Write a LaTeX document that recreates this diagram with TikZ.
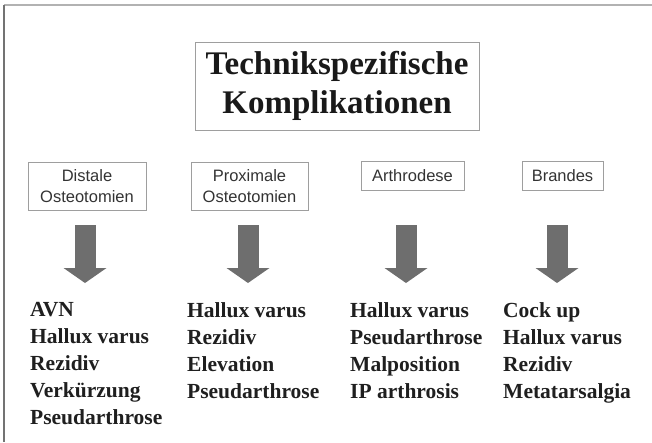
\documentclass[tikz,border=0pt]{standalone}
\usepackage{fontspec}
\setmainfont{Liberation Serif}
\setsansfont{Liberation Sans}
\usetikzlibrary{arrows.meta}
\tikzset{
  box/.style={draw=black!38, line width=1pt, inner sep=0pt, align=center,
    font=\sffamily\fontsize{16.5}{21}\selectfont, text=black!80},
  compl/.style={anchor=north west, inner sep=0pt, align=left,
    font=\bfseries\fontsize{21.5}{27}\selectfont, text=black!88},
  bigarrow/.style={line width=21pt, draw=black!57,
    -{Triangle[width=43pt,length=15pt,line width=0pt]}},
}
\begin{document}
\begin{tikzpicture}[x=1pt, y=-1pt]
    \useasboundingbox (0,0) rectangle (652,442);
    % Frame
    \draw[black!30, line width=1.5pt] (4,5) -- (652,5);
    \draw[black!55, line width=1.5pt] (4,5) -- (4,442);
    % Nodes
    \node[box, minimum width=284pt, minimum height=88pt, text=black!90,
      font=\bfseries\fontsize{33}{39}\selectfont] (title) at (337,86) {Technikspezifische\\Komplikationen};
    \node[box, minimum width=118pt, minimum height=48pt] (dist) at (87,186) {Distale\\Osteotomien};
    \node[box, minimum width=117pt, minimum height=48pt] (prox) at (249.5,186) {Proximale\\Osteotomien};
    \node[box, minimum width=103pt, minimum height=29pt] (arth) at (412.5,175.5) {Arthrodese};
    \node[box, minimum width=81pt, minimum height=29pt] (brand) at (562.5,175.5) {Brandes};
    \node[compl] (dist-list) at (30,302) {AVN\\Hallux varus\\Rezidiv\\Verkürzung\\Pseudarthrose};
    \node[compl] (prox-list) at (187,302) {Hallux varus\\Rezidiv\\Elevation\\Pseudarthrose};
    \node[compl] (arth-list) at (350,302) {Hallux varus\\Pseudarthrose\\Malposition\\IP arthrosis};
    \node[compl] (brand-list) at (503,302) {Cock up\\Hallux varus\\Rezidiv\\Metatarsalgia};
    % Arrow ends
    \coordinate (dist-a) at (85,225);   \coordinate (dist-b) at (85,283);
    \coordinate (prox-a) at (248,225);  \coordinate (prox-b) at (248,283);
    \coordinate (arth-a) at (406,225);  \coordinate (arth-b) at (406,283);
    \coordinate (brand-a) at (557,225); \coordinate (brand-b) at (557,283);
    % Edges
    \draw[bigarrow] (dist-a) -- (dist-b);
    \draw[bigarrow] (prox-a) -- (prox-b);
    \draw[bigarrow] (arth-a) -- (arth-b);
    \draw[bigarrow] (brand-a) -- (brand-b);
\end{tikzpicture}
\end{document}
